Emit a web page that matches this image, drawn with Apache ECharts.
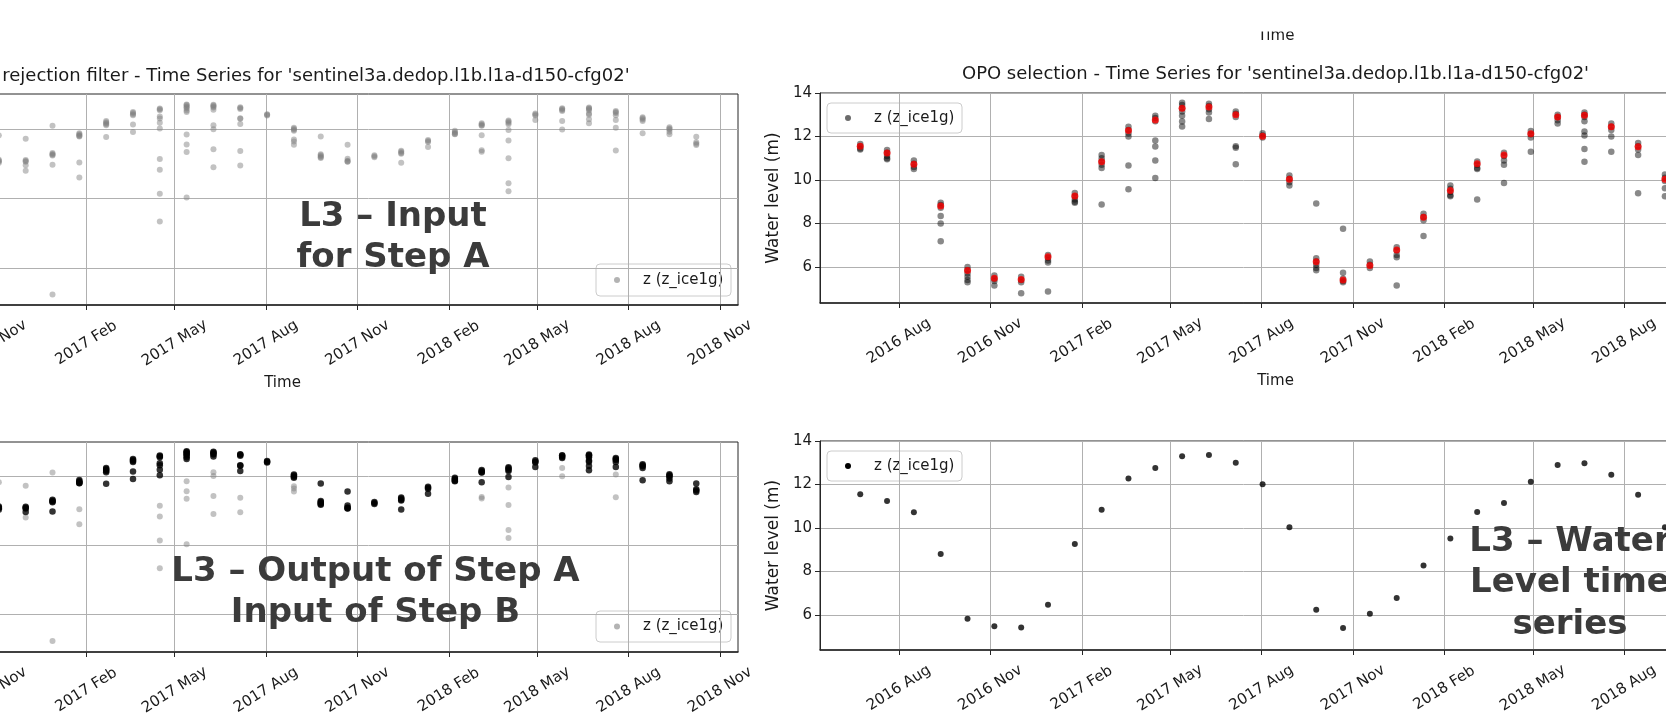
<!DOCTYPE html>
<html><head><meta charset="utf-8">
<script src="https://cdn.jsdelivr.net/npm/echarts@6/dist/echarts.min.js"></script>
<style>html,body{margin:0;padding:0;background:#fff;overflow:hidden}#c{width:1666px;height:719px}</style>
</head><body><div id="c"></div>
<script>
// ---------- data ----------
const cycleDates = ['2016-06-23','2016-07-20','2016-08-16','2016-09-12','2016-10-09','2016-11-05','2016-12-02','2016-12-29',
  '2017-01-25','2017-02-21','2017-03-20','2017-04-16','2017-05-13','2017-06-09','2017-07-06','2017-08-02','2017-08-29',
  '2017-09-25','2017-10-22','2017-11-18','2017-12-15','2018-01-11','2018-02-07','2018-03-06','2018-04-02','2018-04-29',
  '2018-05-26','2018-06-22','2018-07-19','2018-08-15','2018-09-11','2018-10-08'];
// points kept by the outlier rejection filter (input of OPO selection)
const acceptedValues = [
  [11.65,11.55,11.45,11.4],[11.38,11.25,11.1,11.0,10.95],[10.9,10.75,10.6,10.5],[8.95,8.85,8.72,8.34,8.0,7.18],
  [6.0,5.85,5.7,5.55,5.4,5.3],[5.6,5.45,5.35,5.15],[5.55,5.4,5.3,4.79],[6.55,6.42,6.3,6.2,4.87],
  [9.4,9.25,9.1,9.0,8.95],[11.15,11.0,10.85,10.7,10.55,8.87],[12.45,12.3,12.15,12.0,10.66,9.57],[12.95,12.85,12.7,11.82,11.54,10.9,10.09],
  [13.55,13.45,13.3,13.15,12.95,12.69,12.46],[13.5,13.4,13.25,13.1,12.8],[13.15,13.05,12.9,11.55,11.48,10.72],[12.15,12.05,11.95],
  [10.2,10.05,9.9,9.75],[8.92,6.4,6.25,6.1,5.95,5.85],[7.76,5.73,5.45,5.35,5.3],[6.25,6.1,5.95],
  [6.9,6.75,6.55,6.45,5.15],[8.45,8.3,8.15,7.42],[9.75,9.6,9.45,9.3,9.25],[10.85,10.7,10.55,10.5,9.1],
  [11.25,11.1,10.9,10.7,9.86],[12.25,12.1,11.95,11.3],[13.0,12.9,12.75,12.6],[13.1,13.0,12.9,12.7,12.23,12.05,11.42,10.84],
  [12.6,12.45,12.3,12.0,11.3],[11.7,11.55,11.4,11.15,9.39],[10.25,10.1,9.95,9.62,9.25],[8.9,8.1,7.9,7.7]];
// points removed by the outlier rejection filter
const rejectedValues = [
  [],[],[],[],[],[9.1],[8.6,4.0],[10.5,-13.8],[5.2,3.05],[],[],[5.7,4.15,0.7,-3.3],
  [9.23,7.8,6.7,0.15],[10.55,9.98,7.1,4.5],[6.85,4.75],[],[8.5,8.2,7.75],[],[],[],[],[],[],[6.95,6.75],
  [8.35,5.8,2.2,1.05],[],[11.15,9.95],[],[10.2,6.92],[],[],[]];
// value selected by OPO for each cycle
const selectedValues = [11.55,11.24,10.72,8.80,5.83,5.48,5.42,6.47,9.26,10.84,12.28,12.76,13.30,13.36,13.00,12.01,
  10.03,6.24,5.40,6.06,6.78,8.28,9.52,10.74,11.15,12.13,12.90,12.98,12.45,11.53,10.03,7.85];

const tickDates  = ['2016-05-01','2016-08-01','2016-11-01','2017-02-01','2017-05-01','2017-08-01','2017-11-01','2018-02-01','2018-05-01','2018-08-01','2018-11-01'];
const tickLabels = ['2016 May','2016 Aug','2016 Nov','2017 Feb','2017 May','2017 Aug','2017 Nov','2018 Feb','2018 May','2018 Aug','2018 Nov'];
const leftYTicks  = [-10, 0, 10];
const rightYTicks = [6, 8, 10, 12, 14];
const seriesName = 'z (z_ice1g)';
const titleLeft  = "Outlier rejection filter - Time Series for 'sentinel3a.dedop.l1b.l1a-d150-cfg02'";
const titleRight = "OPO selection - Time Series for 'sentinel3a.dedop.l1b.l1a-d150-cfg02'";
const overlayA = 'L3 – Input\nfor Step A';
const overlayB = 'L3 – Output of Step A\nInput of Step B';
const overlayC = 'L3 – Water\nLevel time\nseries';

// ---------- build ----------
const FONT = 'DejaVu Sans';
const TXT = '#1a1a1a';
const ts = s => Date.parse(s.length > 10 ? s + 'Z' : s + 'T00:00:00Z');
const tickTs = tickDates.map(ts);
const labelOf = v => { const i = tickTs.indexOf(v); return i >= 0 ? tickLabels[i] : ''; };

const acceptedPts = [], rejectedPts = [];
cycleDates.forEach((d, i) => {
  acceptedValues[i].forEach(v => acceptedPts.push([ts(d), v]));
  rejectedValues[i].forEach(v => rejectedPts.push([ts(d), v]));
});
const allPts = acceptedPts.concat(rejectedPts);
const selectedPts = cycleDates.map((d, i) => [ts(d), selectedValues[i]]);

const leftRange  = [ts('2016-05-16'), ts('2018-11-19')];
const rightRange = [ts('2016-05-13T12:00:00'), ts('2018-11-16T12:00:00')];

const grids = [
  {left: -173, top: 94,  width: 911, height: 211},
  {left: -173, top: 442, width: 911, height: 210},
  {left: 820,  top: 93,  width: 911, height: 210},
  {left: 820,  top: 441, width: 911, height: 209}
].map(g => Object.assign(g, {show: true, borderColor: '#262626', borderWidth: 1, backgroundColor: 'transparent',
  outerBoundsMode: 'none', containLabel: false}));

function xAx(gi, range) {
  return {
    type: 'value', gridIndex: gi, min: range[0], max: range[1], scale: true,
    axisLine: {show: true, onZero: false, lineStyle: {color: '#262626', width: 1.5}},
    axisTick: {show: true, customValues: tickTs, length: 5, lineStyle: {color: '#262626', width: 1}},
    axisLabel: {customValues: tickTs, formatter: labelOf, rotate: 32, align: 'center', verticalAlign: 'middle',
      margin: 38, fontSize: 15, color: TXT, fontFamily: FONT, hideOverlap: false},
    splitLine: {show: true, lineStyle: {color: '#b0b0b0', width: 1}},
    name: 'Time', nameLocation: 'middle', nameGap: 71,
    nameTextStyle: {fontSize: 15, color: TXT, fontFamily: FONT}
  };
}
function yAx(gi, min, max, ticks) {
  return {
    type: 'value', gridIndex: gi, min: min, max: max, scale: true,
    axisLine: {show: true, onZero: false, lineStyle: {color: '#262626', width: 1}},
    axisTick: {show: true, customValues: ticks, length: 5, lineStyle: {color: '#262626'}},
    axisLabel: {customValues: ticks, fontSize: 15, color: TXT, fontFamily: FONT, margin: 8},
    splitLine: {show: true, lineStyle: {color: '#b0b0b0', width: 1}},
    name: 'Water level (m)', nameLocation: 'middle', nameGap: 38, nameRotate: 90,
    nameTextStyle: {fontSize: 17, color: TXT, fontFamily: FONT}
  };
}

function sc(name, xi, data, color, size) {
  return {type: 'scatter', name: name, xAxisIndex: xi, yAxisIndex: xi, data: data, symbol: 'circle', symbolSize: size || 6,
    itemStyle: {color: color, borderWidth: 0}, emphasis: {disabled: true}, animation: false};
}

const GRAY = 'rgba(128,128,128,0.6)';
const DARK = 'rgba(0,0,0,0.58)';

// legend box drawn like matplotlib's: rounded frame, marker, label
function legendBox(x, y, h, color) {
  return {type: 'group', x: x, y: y, z: 90, silent: true, children: [
    {type: 'rect', shape: {x: 0, y: 0, width: 135, height: h, r: 4}, style: {fill: 'rgba(255,255,255,0.85)', stroke: '#cccccc', lineWidth: 1}},
    {type: 'circle', shape: {cx: 21, cy: h / 2, r: 3}, style: {fill: color}},
    {type: 'text', x: 47, y: h / 2, style: {text: seriesName, textVerticalAlign: 'middle', fill: TXT, font: '15px "DejaVu Sans"'}}
  ]};
}

function overlay(text, x, y, lh) {
  return {type: 'text', z: 100, x: x, y: y, silent: true,
    style: {text: text, textAlign: 'center', textVerticalAlign: 'middle', fill: '#3b3b3b',
      font: 'bold 34px "DejaVu Sans"', lineHeight: lh}};
}

const option = {
  animation: false,
  backgroundColor: '#ffffff',
  grid: grids,
  xAxis: [xAx(0, leftRange), xAx(1, leftRange), xAx(2, rightRange), xAx(3, rightRange)],
  yAxis: [yAx(0, -15.3, 15.05, leftYTicks), yAx(1, -15.4, 14.9, leftYTicks), yAx(2, 4.34, 14, rightYTicks), yAx(3, 4.39, 14, rightYTicks)],
  series: [
    sc(seriesName, 0, allPts, GRAY),
    sc(seriesName, 1, rejectedPts, GRAY),
    sc('accepted', 1, acceptedPts, '#000000', 6.5),
    sc(seriesName, 2, acceptedPts, DARK, 6.5),
    sc('selected', 2, selectedPts, '#ff0000', 7),
    sc(seriesName, 3, selectedPts, '#000000', 6)
  ],
  graphic: [
    {type: 'text', z: 50, x: 282.5, y: 76, silent: true, style: {text: titleLeft, textAlign: 'center', textVerticalAlign: 'middle', fill: TXT, font: '18px "DejaVu Sans"'}},
    {type: 'text', z: 50, x: 1275.5, y: 74, silent: true, style: {text: titleRight, textAlign: 'center', textVerticalAlign: 'middle', fill: TXT, font: '18px "DejaVu Sans"'}},
    {type: 'text', z: 50, x: 1276, y: 36, silent: true, style: {text: 'Time', textAlign: 'center', textVerticalAlign: 'middle', fill: TXT, font: '15px "DejaVu Sans"'}},
    {type: 'rect', z: 60, silent: true, shape: {x: 1240, y: 0, width: 80, height: 31.5}, style: {fill: '#ffffff'}},
    legendBox(596, 264, 32, GRAY),
    legendBox(596, 611, 31, GRAY),
    legendBox(827, 103, 30, DARK),
    legendBox(827, 451, 30, '#000000'),
    overlay(overlayA, 393, 237.5, 41),
    overlay(overlayB, 375.5, 592.5, 41),
    overlay(overlayC, 1570, 583.5, 41.5)
  ]
};

const chart = echarts.init(document.getElementById('c'), null, {renderer: 'canvas', width: 1666, height: 719});
chart.setOption(option);
</script></body></html>
